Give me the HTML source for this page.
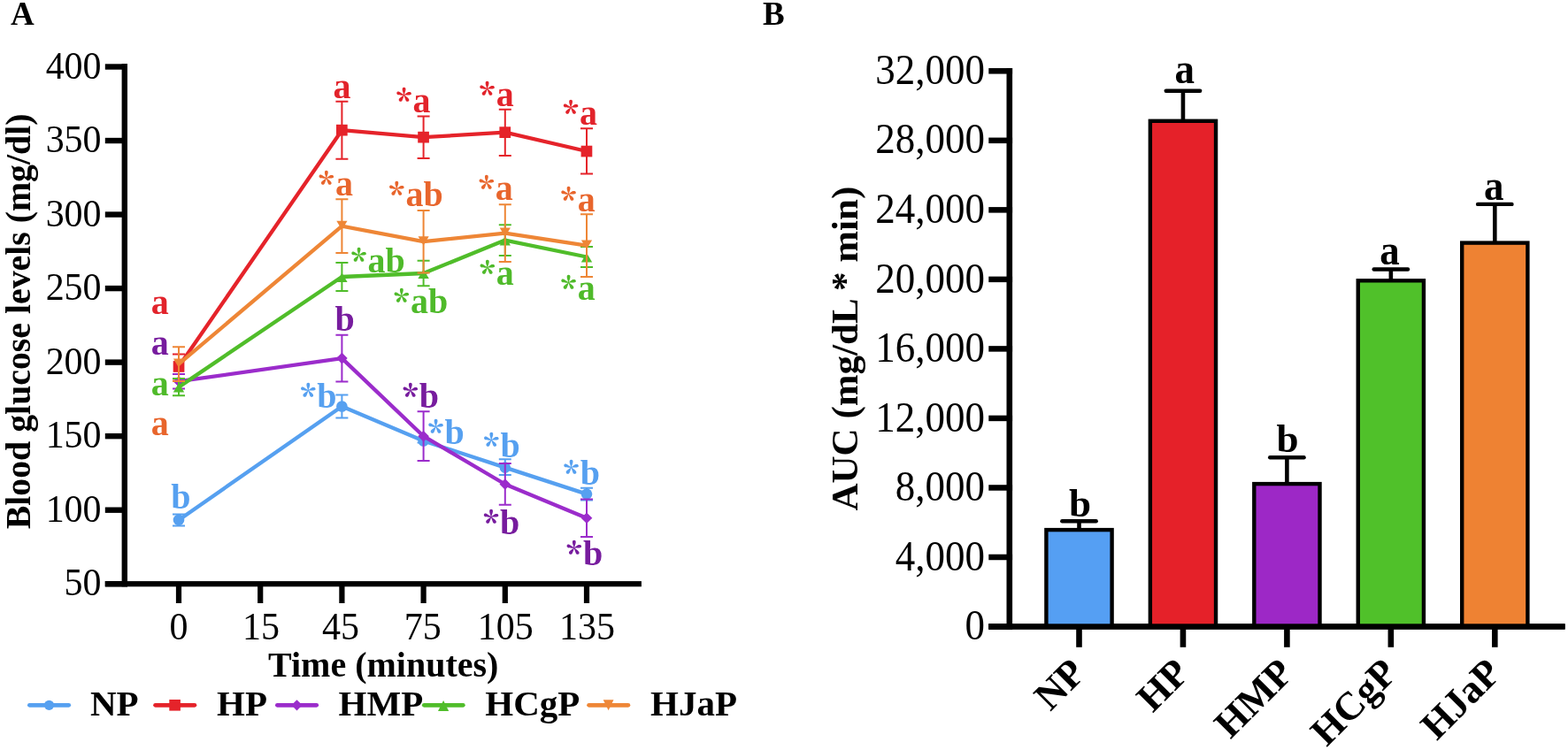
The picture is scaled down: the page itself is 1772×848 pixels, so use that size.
<!DOCTYPE html><html><head><meta charset="utf-8"><title>Blood glucose figure</title>
<style>html,body{margin:0;padding:0;background:#fff;}svg{display:block;}</style></head><body>
<svg width="1772" height="848" viewBox="0 0 1772 848" font-family="'Liberation Serif', 'Times New Roman', serif">
<rect width="1772" height="848" fill="#fff"/>
<text x="12" y="27.5" font-size="37" font-weight="bold">A</text>
<text x="862" y="27.5" font-size="37" font-weight="bold">B</text>
<g fill="#000">
<rect x="137.6" y="72.2" width="6.4" height="591.1"/>
<rect x="118.8" y="657.1" width="606.1" height="6.2"/>
<rect x="118.8" y="657.01" width="25.2" height="6.4"/>
<rect x="118.8" y="573.48" width="25.2" height="6.4"/>
<rect x="118.8" y="489.95" width="25.2" height="6.4"/>
<rect x="118.8" y="406.42" width="25.2" height="6.4"/>
<rect x="118.8" y="322.89" width="25.2" height="6.4"/>
<rect x="118.8" y="239.36" width="25.2" height="6.4"/>
<rect x="118.8" y="155.83" width="25.2" height="6.4"/>
<rect x="118.8" y="72.30" width="25.2" height="6.4"/>
<rect x="198.90" y="660" width="6.2" height="22"/>
<rect x="291.10" y="660" width="6.2" height="22"/>
<rect x="383.30" y="660" width="6.2" height="22"/>
<rect x="475.50" y="660" width="6.2" height="22"/>
<rect x="567.70" y="660" width="6.2" height="22"/>
<rect x="659.90" y="660" width="6.2" height="22"/>
</g>
<g font-size="42" text-anchor="end" fill="#000">
<text transform="translate(114.6,673.4) scale(1,1.045)">50</text>
<text transform="translate(114.6,589.9) scale(1,1.045)">100</text>
<text transform="translate(114.6,506.4) scale(1,1.045)">150</text>
<text transform="translate(114.6,422.8) scale(1,1.045)">200</text>
<text transform="translate(114.6,339.3) scale(1,1.045)">250</text>
<text transform="translate(114.6,255.8) scale(1,1.045)">300</text>
<text transform="translate(114.6,172.2) scale(1,1.045)">350</text>
<text transform="translate(114.6,88.7) scale(1,1.045)">400</text>
</g>
<g font-size="42" text-anchor="middle" fill="#000">
<text transform="translate(202.0,722.6) scale(1,1.035)">0</text>
<text transform="translate(295.0,722.6) scale(1,1.035)">15</text>
<text transform="translate(385.0,722.6) scale(1,1.035)">45</text>
<text transform="translate(477.8,722.6) scale(1,1.035)">75</text>
<text transform="translate(571.2,722.6) scale(1,1.035)">105</text>
<text transform="translate(663.6,722.6) scale(1,1.035)">135</text>
</g>
<text x="303" y="765" font-size="40" font-weight="bold">Time (minutes)</text>
<text transform="translate(34,598.3) rotate(-90)" font-size="39.8" font-weight="bold">Blood glucose levels (mg/dl)</text>
<g><path d="M202.0 581.4V594.4M195.0 581.4H209.0M195.0 594.4H209.0" stroke="#56A0F0" stroke-width="2.0" fill="none"/><path d="M386.4 446.6V472.5M379.4 446.6H393.4M379.4 472.5H393.4" stroke="#56A0F0" stroke-width="2.0" fill="none"/><path d="M478.6 496.5V500.5M471.6 496.5H485.6M471.6 500.5H485.6" stroke="#56A0F0" stroke-width="2.0" fill="none"/><path d="M570.8 519.3V536.9M563.8 519.3H577.8M563.8 536.9H577.8" stroke="#56A0F0" stroke-width="2.0" fill="none"/><path d="M663.0 551.7V565.5M656.0 551.7H670.0M656.0 565.5H670.0" stroke="#56A0F0" stroke-width="2.0" fill="none"/><path d="M202.0 587.9 L386.4 459.5 L478.6 498.5 L570.8 528.6 L663.0 558.6" stroke="#56A0F0" stroke-width="4.3" fill="none" stroke-linejoin="round"/><circle cx="202.0" cy="587.9" r="6.30" fill="#56A0F0"/><circle cx="386.4" cy="459.5" r="6.30" fill="#56A0F0"/><circle cx="478.6" cy="498.5" r="6.30" fill="#56A0F0"/><circle cx="570.8" cy="528.6" r="6.30" fill="#56A0F0"/><circle cx="663.0" cy="558.6" r="6.30" fill="#56A0F0"/></g>
<g><path d="M202.0 400.6V428.4M195.0 400.6H209.0M195.0 428.4H209.0" stroke="#E5232A" stroke-width="2.0" fill="none"/><path d="M386.4 114.7V179.7M379.4 114.7H393.4M379.4 179.7H393.4" stroke="#E5232A" stroke-width="2.0" fill="none"/><path d="M478.6 131.6V179.0M471.6 131.6H485.6M471.6 179.0H485.6" stroke="#E5232A" stroke-width="2.0" fill="none"/><path d="M570.8 123.7V176.1M563.8 123.7H577.8M563.8 176.1H577.8" stroke="#E5232A" stroke-width="2.0" fill="none"/><path d="M663.0 145.2V196.5M656.0 145.2H670.0M656.0 196.5H670.0" stroke="#E5232A" stroke-width="2.0" fill="none"/><path d="M202.0 414.5 L386.4 147.2 L478.6 155.2 L570.8 149.7 L663.0 171.0" stroke="#E5232A" stroke-width="4.3" fill="none" stroke-linejoin="round"/><rect x="195.7" y="408.1" width="12.7" height="12.7" fill="#E5232A"/><rect x="380.0" y="140.8" width="12.7" height="12.7" fill="#E5232A"/><rect x="472.2" y="148.8" width="12.7" height="12.7" fill="#E5232A"/><rect x="564.4" y="143.3" width="12.7" height="12.7" fill="#E5232A"/><rect x="656.6" y="164.7" width="12.7" height="12.7" fill="#E5232A"/></g>
<g><path d="M202.0 422.9V439.6M195.0 422.9H209.0M195.0 439.6H209.0" stroke="#9B2CCB" stroke-width="2.0" fill="none"/><path d="M386.4 378.7V431.5M379.4 378.7H393.4M379.4 431.5H393.4" stroke="#9B2CCB" stroke-width="2.0" fill="none"/><path d="M478.6 465.3V521.1M471.6 465.3H485.6M471.6 521.1H485.6" stroke="#9B2CCB" stroke-width="2.0" fill="none"/><path d="M570.8 524.1V570.8M563.8 524.1H577.8M563.8 570.8H577.8" stroke="#9B2CCB" stroke-width="2.0" fill="none"/><path d="M663.0 564.4V607.0M656.0 564.4H670.0M656.0 607.0H670.0" stroke="#9B2CCB" stroke-width="2.0" fill="none"/><path d="M202.0 431.2 L386.4 405.1 L478.6 493.2 L570.8 547.5 L663.0 585.7" stroke="#9B2CCB" stroke-width="4.3" fill="none" stroke-linejoin="round"/><polygon points="202.0,424.9 208.3,431.2 202.0,437.5 195.7,431.2" fill="#9B2CCB"/><polygon points="386.4,398.8 392.7,405.1 386.4,411.4 380.1,405.1" fill="#9B2CCB"/><polygon points="478.6,486.9 484.9,493.2 478.6,499.5 472.3,493.2" fill="#9B2CCB"/><polygon points="570.8,541.2 577.1,547.5 570.8,553.8 564.5,547.5" fill="#9B2CCB"/><polygon points="663.0,579.4 669.3,585.7 663.0,592.0 656.7,585.7" fill="#9B2CCB"/></g>
<g><path d="M202.0 428.1V447.2M195.0 428.1H209.0M195.0 447.2H209.0" stroke="#50BD2A" stroke-width="2.0" fill="none"/><path d="M386.4 297.0V329.0M379.4 297.0H393.4M379.4 329.0H393.4" stroke="#50BD2A" stroke-width="2.0" fill="none"/><path d="M478.6 294.8V323.3M471.6 294.8H485.6M471.6 323.3H485.6" stroke="#50BD2A" stroke-width="2.0" fill="none"/><path d="M570.8 254.2V288.9M563.8 254.2H577.8M563.8 288.9H577.8" stroke="#50BD2A" stroke-width="2.0" fill="none"/><path d="M663.0 279.0V302.0M656.0 279.0H670.0M656.0 302.0H670.0" stroke="#50BD2A" stroke-width="2.0" fill="none"/><path d="M202.0 437.6 L386.4 313.0 L478.6 309.0 L570.8 271.6 L663.0 290.5" stroke="#50BD2A" stroke-width="4.3" fill="none" stroke-linejoin="round"/><polygon points="202.0,433.2 208.2,443.6 195.8,443.6" fill="#50BD2A"/><polygon points="386.4,308.6 392.6,319.0 380.2,319.0" fill="#50BD2A"/><polygon points="478.6,304.6 484.8,315.0 472.4,315.0" fill="#50BD2A"/><polygon points="570.8,267.2 577.0,277.6 564.6,277.6" fill="#50BD2A"/><polygon points="663.0,286.1 669.2,296.5 656.8,296.5" fill="#50BD2A"/></g>
<g><path d="M202.0 392.3V430.9M195.0 392.3H209.0M195.0 430.9H209.0" stroke="#EE8636" stroke-width="2.0" fill="none"/><path d="M386.4 225.3V286.0M379.4 225.3H393.4M379.4 286.0H393.4" stroke="#EE8636" stroke-width="2.0" fill="none"/><path d="M478.6 237.9V308.4M471.6 237.9H485.6M471.6 308.4H485.6" stroke="#EE8636" stroke-width="2.0" fill="none"/><path d="M570.8 231.3V296.0M563.8 231.3H577.8M563.8 296.0H577.8" stroke="#EE8636" stroke-width="2.0" fill="none"/><path d="M663.0 242.3V313.0M656.0 242.3H670.0M656.0 313.0H670.0" stroke="#EE8636" stroke-width="2.0" fill="none"/><path d="M202.0 411.6 L386.4 255.7 L478.6 273.2 L570.8 263.6 L663.0 277.6" stroke="#EE8636" stroke-width="4.3" fill="none" stroke-linejoin="round"/><polygon points="202.0,415.8 208.1,405.6 195.9,405.6" fill="#EE8636"/><polygon points="386.4,259.9 392.5,249.7 380.3,249.7" fill="#EE8636"/><polygon points="478.6,277.4 484.7,267.2 472.5,267.2" fill="#EE8636"/><polygon points="570.8,267.8 576.9,257.6 564.7,257.6" fill="#EE8636"/><polygon points="663.0,281.8 669.1,271.6 656.9,271.6" fill="#EE8636"/></g>
<g font-size="40" font-weight="bold">
<text x="376.5" y="111.4" fill="#E2232B">a</text>
<text y="126.7" fill="#E2232B"><tspan x="447.7" dy="2" font-size="36" font-weight="900" font-family="'Noto Serif CJK SC', 'Liberation Serif', serif">*</tspan><tspan x="466.6" dy="-2">a</tspan></text>
<text y="119.8" fill="#E2232B"><tspan x="541.8" dy="2" font-size="36" font-weight="900" font-family="'Noto Serif CJK SC', 'Liberation Serif', serif">*</tspan><tspan x="560.7" dy="-2">a</tspan></text>
<text y="141.3" fill="#E2232B"><tspan x="636.2" dy="2" font-size="36" font-weight="900" font-family="'Noto Serif CJK SC', 'Liberation Serif', serif">*</tspan><tspan x="655.1" dy="-2">a</tspan></text>
<text x="170.7" y="355.0" fill="#E2232B">a</text>
<text y="220.6" fill="#E8652C"><tspan x="360.0" dy="2" font-size="36" font-weight="900" font-family="'Noto Serif CJK SC', 'Liberation Serif', serif">*</tspan><tspan x="378.9" dy="-2">a</tspan></text>
<text y="233.0" fill="#E8652C"><tspan x="439.6" dy="2" font-size="36" font-weight="900" font-family="'Noto Serif CJK SC', 'Liberation Serif', serif">*</tspan><tspan x="458.5" dy="-2">ab</tspan></text>
<text y="226.2" fill="#E8652C"><tspan x="540.9" dy="2" font-size="36" font-weight="900" font-family="'Noto Serif CJK SC', 'Liberation Serif', serif">*</tspan><tspan x="559.8" dy="-2">a</tspan></text>
<text y="239.4" fill="#E8652C"><tspan x="633.8" dy="2" font-size="36" font-weight="900" font-family="'Noto Serif CJK SC', 'Liberation Serif', serif">*</tspan><tspan x="652.7" dy="-2">a</tspan></text>
<text x="170.7" y="492.0" fill="#E8652C">a</text>
<text y="307.7" fill="#4FBA2A"><tspan x="396.7" dy="2" font-size="36" font-weight="900" font-family="'Noto Serif CJK SC', 'Liberation Serif', serif">*</tspan><tspan x="415.6" dy="-2">ab</tspan></text>
<text y="354.3" fill="#4FBA2A"><tspan x="445.0" dy="2" font-size="36" font-weight="900" font-family="'Noto Serif CJK SC', 'Liberation Serif', serif">*</tspan><tspan x="463.9" dy="-2">ab</tspan></text>
<text y="321.5" fill="#4FBA2A"><tspan x="541.9" dy="2" font-size="36" font-weight="900" font-family="'Noto Serif CJK SC', 'Liberation Serif', serif">*</tspan><tspan x="560.8" dy="-2">a</tspan></text>
<text y="338.5" fill="#4FBA2A"><tspan x="633.8" dy="2" font-size="36" font-weight="900" font-family="'Noto Serif CJK SC', 'Liberation Serif', serif">*</tspan><tspan x="652.7" dy="-2">a</tspan></text>
<text x="170.7" y="447.0" fill="#4FBA2A">a</text>
<text x="378.4" y="373.8" fill="#771C9E">b</text>
<text y="461.0" fill="#771C9E"><tspan x="454.9" dy="2" font-size="36" font-weight="900" font-family="'Noto Serif CJK SC', 'Liberation Serif', serif">*</tspan><tspan x="473.8" dy="-2">b</tspan></text>
<text y="604.2" fill="#771C9E"><tspan x="546.2" dy="2" font-size="36" font-weight="900" font-family="'Noto Serif CJK SC', 'Liberation Serif', serif">*</tspan><tspan x="565.1" dy="-2">b</tspan></text>
<text y="638.8" fill="#771C9E"><tspan x="640.0" dy="2" font-size="36" font-weight="900" font-family="'Noto Serif CJK SC', 'Liberation Serif', serif">*</tspan><tspan x="658.9" dy="-2">b</tspan></text>
<text x="170.7" y="400.7" fill="#771C9E">a</text>
<text x="193.3" y="575.1" fill="#56A0F0">b</text>
<text y="461.1" fill="#56A0F0"><tspan x="339.4" dy="2" font-size="36" font-weight="900" font-family="'Noto Serif CJK SC', 'Liberation Serif', serif">*</tspan><tspan x="358.3" dy="-2">b</tspan></text>
<text y="502.0" fill="#56A0F0"><tspan x="483.7" dy="2" font-size="36" font-weight="900" font-family="'Noto Serif CJK SC', 'Liberation Serif', serif">*</tspan><tspan x="502.6" dy="-2">b</tspan></text>
<text y="516.7" fill="#56A0F0"><tspan x="546.6" dy="2" font-size="36" font-weight="900" font-family="'Noto Serif CJK SC', 'Liberation Serif', serif">*</tspan><tspan x="565.5" dy="-2">b</tspan></text>
<text y="547.5" fill="#56A0F0"><tspan x="636.8" dy="2" font-size="36" font-weight="900" font-family="'Noto Serif CJK SC', 'Liberation Serif', serif">*</tspan><tspan x="655.7" dy="-2">b</tspan></text>
</g>
<path d="M33.4 797.3H77.7" stroke="#56A0F0" stroke-width="4.8" stroke-linecap="round"/>
<circle cx="55.5" cy="797.3" r="5.60" fill="#56A0F0"/>
<text x="102.0" y="809.4" font-size="41" font-weight="bold">NP</text>
<path d="M175.6 797.3H219.9" stroke="#E5232A" stroke-width="4.8" stroke-linecap="round"/>
<rect x="191.3" y="791.0" width="12.6" height="12.6" fill="#E5232A"/>
<text x="245.0" y="809.4" font-size="41" font-weight="bold">HP</text>
<path d="M313.4 797.3H357.7" stroke="#9B2CCB" stroke-width="4.8" stroke-linecap="round"/>
<polygon points="335.5,791.2 341.6,797.3 335.5,803.4 329.4,797.3" fill="#9B2CCB"/>
<text x="382.6" y="809.4" font-size="41" font-weight="bold">HMP</text>
<path d="M479.3 797.3H523.3" stroke="#50BD2A" stroke-width="4.8" stroke-linecap="round"/>
<polygon points="501.1,791.9 507.2,804.1 495.0,804.1" fill="#50BD2A"/>
<text x="548.3" y="809.4" font-size="41" font-weight="bold">HCgP</text>
<path d="M665.6 797.3H709.9" stroke="#EE8636" stroke-width="4.8" stroke-linecap="round"/>
<polygon points="687.6,803.2 693.5,791.3 681.7,791.3" fill="#EE8636"/>
<text x="735.0" y="809.4" font-size="41" font-weight="bold">HJaP</text>
<g fill="#000">
<rect x="1137.5" y="77" width="6.6" height="634.6"/>
<rect x="1117.3" y="705.3" width="651.3" height="6.3"/>
<rect x="1117.3" y="705.25" width="26.8" height="6.5"/>
<rect x="1117.3" y="626.73" width="26.8" height="6.5"/>
<rect x="1117.3" y="548.20" width="26.8" height="6.5"/>
<rect x="1117.3" y="469.67" width="26.8" height="6.5"/>
<rect x="1117.3" y="391.15" width="26.8" height="6.5"/>
<rect x="1117.3" y="312.62" width="26.8" height="6.5"/>
<rect x="1117.3" y="234.10" width="26.8" height="6.5"/>
<rect x="1117.3" y="155.57" width="26.8" height="6.5"/>
<rect x="1117.3" y="77.05" width="26.8" height="6.5"/>
<rect x="1216.20" y="708" width="6.6" height="23.8"/>
<rect x="1333.65" y="708" width="6.6" height="23.8"/>
<rect x="1451.10" y="708" width="6.6" height="23.8"/>
<rect x="1568.55" y="708" width="6.6" height="23.8"/>
<rect x="1686.00" y="708" width="6.6" height="23.8"/>
</g>
<g font-size="45" text-anchor="end" fill="#000">
<text transform="translate(1113.0,723.1) scale(1,1.06)">0</text>
<text transform="translate(1113.0,644.6) scale(1,1.06)">4,000</text>
<text transform="translate(1113.0,566.1) scale(1,1.06)">8,000</text>
<text transform="translate(1113.0,487.5) scale(1,1.06)">12,000</text>
<text transform="translate(1113.0,409.0) scale(1,1.06)">16,000</text>
<text transform="translate(1113.0,330.5) scale(1,1.06)">20,000</text>
<text transform="translate(1113.0,251.9) scale(1,1.06)">24,000</text>
<text transform="translate(1113.0,173.4) scale(1,1.06)">28,000</text>
<text transform="translate(1113.0,94.9) scale(1,1.06)">32,000</text>
</g>
<text transform="translate(969,577.5) rotate(-90)" font-size="43" font-weight="bold">AUC (mg/dL * min)</text>
<path d="M1219.50 598.9V589.3" stroke="#000" stroke-width="4.6"/>
<path d="M1200.30 589.3H1238.70" stroke="#000" stroke-width="4.4" stroke-linecap="round"/>
<rect x="1182.40" y="599.10" width="74.20" height="109.40" fill="#559FF3" stroke="#000" stroke-width="4.4"/>
<text transform="translate(1208.0,583.6) scale(1,1.00)" font-size="45" font-weight="bold">b</text>
<path d="M1336.95 136.6V102.8" stroke="#000" stroke-width="4.6"/>
<path d="M1317.75 102.8H1356.15" stroke="#000" stroke-width="4.4" stroke-linecap="round"/>
<rect x="1299.85" y="136.80" width="74.20" height="571.70" fill="#E52129" stroke="#000" stroke-width="4.4"/>
<text transform="translate(1327.5,93.9) scale(1,1.09)" font-size="45" font-weight="bold">a</text>
<path d="M1454.40 546.9V517.2" stroke="#000" stroke-width="4.6"/>
<path d="M1435.20 517.2H1473.60" stroke="#000" stroke-width="4.4" stroke-linecap="round"/>
<rect x="1417.30" y="547.10" width="74.20" height="161.40" fill="#9D28C6" stroke="#000" stroke-width="4.4"/>
<text transform="translate(1442.4,510.7) scale(1,1.00)" font-size="45" font-weight="bold">b</text>
<path d="M1571.85 317.1V304.5" stroke="#000" stroke-width="4.6"/>
<path d="M1552.65 304.5H1591.05" stroke="#000" stroke-width="4.4" stroke-linecap="round"/>
<rect x="1534.75" y="317.30" width="74.20" height="391.20" fill="#50C12A" stroke="#000" stroke-width="4.4"/>
<text transform="translate(1559.3,298.7) scale(1,1.09)" font-size="45" font-weight="bold">a</text>
<path d="M1689.30 274.4V230.9" stroke="#000" stroke-width="4.6"/>
<path d="M1670.10 230.9H1708.50" stroke="#000" stroke-width="4.4" stroke-linecap="round"/>
<rect x="1652.20" y="274.60" width="74.20" height="433.90" fill="#EE8233" stroke="#000" stroke-width="4.4"/>
<text transform="translate(1676.9,225.6) scale(1,1.09)" font-size="45" font-weight="bold">a</text>
<rect x="1117.3" y="705.3" width="651.3" height="6.3" fill="#000"/>
<text transform="translate(1229.0,763.0) rotate(-45)" text-anchor="end" font-size="44.5" font-weight="bold">NP</text>
<text transform="translate(1346.5,763.0) rotate(-45)" text-anchor="end" font-size="44.5" font-weight="bold">HP</text>
<text transform="translate(1463.9,763.0) rotate(-45)" text-anchor="end" font-size="44.5" font-weight="bold">HMP</text>
<text transform="translate(1581.3,763.0) rotate(-45)" text-anchor="end" font-size="44.5" font-weight="bold">HCgP</text>
<text transform="translate(1698.8,763.0) rotate(-45)" text-anchor="end" font-size="44.5" font-weight="bold">HJaP</text>
</svg></body></html>
